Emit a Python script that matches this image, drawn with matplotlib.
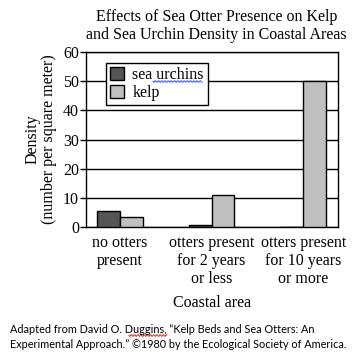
import matplotlib
matplotlib.use("Agg")
import matplotlib.pyplot as plt
import numpy as np

# data
areas = ["no otters\npresent", "otters present\nfor 2 years\nor less", "otters present\nfor 10 years\nor more"]
urchins = [5.5, 0.7, 0]
kelp = [3.5, 11, 50]

plt.rcParams['font.family'] = 'Liberation Serif'

W, H = 353, 364
fig = plt.figure(figsize=(W/100, H/100), dpi=100)
ax = fig.add_axes([86/W, 1-227/H, 252/W, 175/H])

x = np.arange(len(areas))
w = 0.25
ax.bar(x - w/2, urchins, w, color='#555555', edgecolor='black', linewidth=1, label='sea urchins', zorder=3)
ax.bar(x + w/2, kelp, w, color='#c0c0c0', edgecolor='black', linewidth=1, label='kelp', zorder=3)

ax.set_xlim(-0.37, 2.38)
ax.set_ylim(0, 60)
ax.set_yticks(range(0, 61, 10))
ax.yaxis.grid(True, color='black', linewidth=1, zorder=0)
ax.set_xticks(x)
ax.set_xticklabels(areas, fontsize=11.5, linespacing=1.15)
ax.tick_params(axis='x', length=0, pad=6)
ax.tick_params(axis='y', length=4, width=1, labelsize=11.5, pad=1)
for s in ax.spines.values():
    s.set_linewidth(1)

ax.set_xlabel("Coastal area", fontsize=11.5, labelpad=6)
ax.set_ylabel("Density\n(number per square meter)", fontsize=11.5, linespacing=1.1)

leg = ax.legend(loc='upper left', bbox_to_anchor=(0.079, 0.937), fontsize=11.5, fancybox=False,
                edgecolor='black', framealpha=1, handlelength=0.9, handleheight=0.9,
                borderpad=0.25, labelspacing=0.1, handletextpad=0.5, borderaxespad=0)
leg.get_frame().set_linewidth(1)

fig.text(0.613, 0.975, "Effects of Sea Otter Presence on Kelp\nand Sea Urchin Density in Coastal Areas",
         ha='center', va='top', fontsize=11.5, linespacing=1.15)

fig.text(10/W, 1-337/H, "Adapted from David O. Duggins, \u201cKelp Beds and Sea Otters: An\n"
         "Experimental Approach.\u201d \u00a91980 by the Ecological Society of America.",
         ha='left', va='center', fontsize=7.8, family='Lato', linespacing=1.35)

# spell-check squiggles as in the scanned source
def squiggle(x0, x1, y, color):
    xs = np.linspace(x0, x1, 60)
    ys = y + 0.9 * np.sin((xs - x0) / 1.6 * np.pi)
    fig.add_artist(plt.Line2D(xs / W, 1 - ys / H, color=color, linewidth=0.7))

squiggle(153, 202, 81.5, '#3050ff')
squiggle(129, 167, 335.5, '#e02020')

fig.savefig("out.png", dpi=100)
